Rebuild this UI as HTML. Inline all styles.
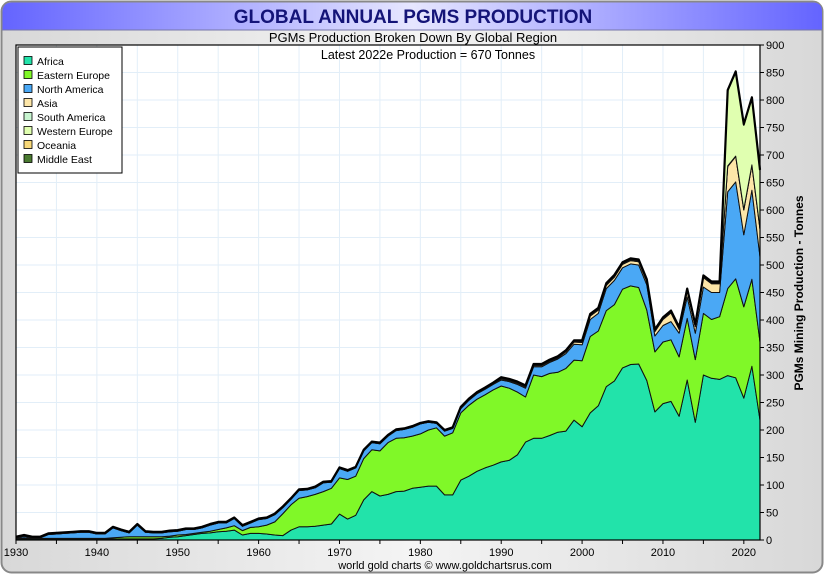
<!DOCTYPE html>
<html><head><meta charset="utf-8"><style>
html,body{margin:0;padding:0;background:#fff;}
body{width:825px;height:575px;overflow:hidden;font-family:"Liberation Sans",sans-serif;}
</style></head><body>
<svg id="chart" width="825" height="575" viewBox="0 0 825 575" xmlns="http://www.w3.org/2000/svg" font-family="Liberation Sans, sans-serif">
<defs>
<linearGradient id="tbar" x1="0" x2="1" y1="0" y2="0">
<stop offset="0" stop-color="#6464ff"/><stop offset="0.5" stop-color="#e6e6ff"/><stop offset="1" stop-color="#6464ff"/>
</linearGradient>
<linearGradient id="frame" x1="0" x2="1" y1="0" y2="0">
<stop offset="0" stop-color="#d8d8d8"/><stop offset="0.5" stop-color="#f4f4f4"/><stop offset="1" stop-color="#d8d8d8"/>
</linearGradient>
</defs>
<rect x="1.5" y="1.5" width="821" height="571" rx="10" fill="url(#frame)" stroke="#888" stroke-width="2"/>
<path d="M2.5,30 L2.5,12 Q2.5,2.5 12,2.5 L813,2.5 Q822,2.5 822,12 L822,30 Z" fill="url(#tbar)"/>
<line x1="2" y1="30" x2="822" y2="30" stroke="#7777aa" stroke-width="1"/>
<text x="413" y="23" text-anchor="middle" font-size="19" font-weight="bold" fill="#141478">GLOBAL ANNUAL PGMS PRODUCTION</text>
<text x="413" y="42" text-anchor="middle" font-size="13" fill="#000">PGMs Production Broken Down By Global Region</text>
<rect x="16" y="45" width="744" height="495" fill="#fff"/>
<g id="grid"></g>
<g id="areas"></g>
<rect x="16" y="45" width="744" height="495" fill="none" stroke="#000" stroke-width="1.2"/>
<text x="428" y="59" text-anchor="middle" font-size="12.5" fill="#000">Latest 2022e Production = 670 Tonnes</text>
<g id="yaxis"></g>
<g id="xaxis"></g>
<text transform="translate(803,293) rotate(-90)" text-anchor="middle" font-size="12" font-weight="bold" fill="#000">PGMs Mining Production - Tonnes</text>
<text x="445" y="569" text-anchor="middle" font-size="11" fill="#000">world gold charts © www.goldchartsrus.com</text>
<g id="legend">
<rect x="18" y="47" width="104" height="126" fill="#fff" stroke="#000" stroke-width="1"/>
</g>
</svg>
<script>
const years = [];
for (let y = 1930; y <= 2022; y++) years.push(y);
const africa = [2,2,2,2,2,2,2,2,2,2, 2,2,2,2,2,2,2,2,3,5, 6,8,10,12,13,15,16,18,9,12, 12,11,9,8,18,24,24,25,27,29, 47,38,45,73,88,80,83,88,89,94, 96,98,98,82,82,109,116,125,131,136, 142,145,155,178,185,185,190,196,198,218, 206,231,244,279,289,313,319,320,290,233, 248,252,225,291,214,300,294,292,299,295, 258,316,218];
const easternEurope = [1,2,1,1,1,1,1,1,1,1, 1,1,2,3,4,4,4,4,3,2, 3,2,2,2,3,4,6,8,8,11, 12,16,24,40,46,52,55,58,61,65, 66,72,71,75,76,82,94,97,97,95, 97,102,106,107,113,122,129,131,133,137, 138,131,114,82,115,112,113,109,114,109, 120,139,136,138,139,143,143,139,128,109, 112,112,108,112,114,112,107,114,158,180, 166,158,142];
const northAmerica = [1,3,1,1,7,8,9,10,11,11, 8,8,18,12,7,21,8,7,7,8, 7,9,7,8,11,12,9,13,8,8, 13,12,13,11,10,14,12,12,16,11, 17,15,15,14,13,13,12,14,15,16, 18,14,8,9,8,8,9,10,10,10, 11,12,14,16,15,18,20,24,27,29, 29,31,32,40,44,39,40,41,46,29, 30,33,43,39,48,48,49,44,176,176, 131,162,155];
const asia = [0,0,0,0,0,0,0,0,0,0, 0,0,0,0,0,0,0,0,0,0, 0,0,0,0,0,0,0,0,0,0, 0,0,0,0,0,0,0,0,0,0, 0,0,0,0,0,0,0,0,0,0, 0,0,0,0,0,1,1,1,1,1, 2,2,2,2,2,2,2,2,3,4, 4,6,6,6,6,6,6,6,6,8, 11,16,7,11,12,17,16,16,46,46, 45,45,50];
const southAmerica = [1,1,1,1,1,1,1,1,1,1, 1,1,1,1,1,1,1,1,1,1, 1,1,1,1,1,1,1,1,1,1, 1,1,1,1,1,1,1,1,1,1, 1,1,1,1,1,1,1,1,1,1, 1,1,1,1,1,1,1,1,1,1, 1,1,1,1,1,1,1,1,1,1, 1,1,1,1,1,1,1,1,1,1, 1,1,1,1,1,1,1,1,1,1, 1,1,1];
const westernEurope = [1,1,1,1,1,1,1,1,1,1, 1,1,1,1,1,1,1,1,1,1, 1,1,1,1,1,1,1,1,1,1, 1,1,1,1,1,1,1,1,1,1, 1,1,1,1,1,1,1,1,1,1, 1,1,1,1,1,1,1,1,1,1, 1,1,1,1,1,1,1,1,1,1, 1,1,1,1,1,1,1,1,1,1, 1,1,1,1,1,1,1,1,136,152, 153,121,105];
const oceania = [0,0,0,0,0,0,0,0,0,0, 0,0,0,0,0,0,0,0,0,0, 0,0,0,0,0,0,0,0,0,0, 0,0,0,0,0,0,0,0,0,0, 0,0,0,0,0,0,0,0,0,0, 0,0,0,0,0,0,0,0,0,0, 1,1,1,1,1,1,1,1,1,1, 1,1,1,1,1,1,1,1,1,1, 1,1,1,1,1,1,1,1,1,1, 1,1,1];
const middleEast = [0,0,0,0,0,0,0,0,0,0, 0,0,0,0,0,0,0,0,0,0, 0,0,0,0,0,0,0,0,0,0, 0,0,0,0,0,0,0,0,0,0, 0,0,0,0,0,0,0,0,0,0, 0,0,0,0,0,0,0,0,0,0, 0,0,0,0,0,0,0,0,0,0, 1,1,1,1,1,1,1,1,1,1, 1,1,1,1,1,1,1,1,1,1, 1,1,1];
const seriesNames = ["Africa","Eastern Europe","North America","Asia","South America","Western Europe","Oceania","Middle East"];
const yTicks = [0,50,100,150,200,250,300,350,400,450,500,550,600,650,700,750,800,850,900];
const xTickLabels = [1930,1940,1950,1960,1970,1980,1990,2000,2010,2020];

const seriesData = [africa,easternEurope,northAmerica,asia,southAmerica,westernEurope,oceania,middleEast];
const colors = ["#22e3aa","#80f828","#4aa8f5","#fde6a8","#c8f5d0","#e0ffb0","#f8d878","#4a7a30"];
const NS = "http://www.w3.org/2000/svg";
const X0 = 16, X1 = 760, Y0 = 540, Y1 = 45;
const xS = y => X0 + (y - 1930) / (2022 - 1930) * (X1 - X0);
const yS = v => Y0 - v / 900 * (Y0 - Y1);
function mk(tag, attrs, parent) { const e = document.createElementNS(NS, tag); for (const k in attrs) e.setAttribute(k, attrs[k]); parent.appendChild(e); return e; }

const grid = document.getElementById('grid');
for (let y = 1935; y < 2022; y += 5) {
  const l = mk('line', {x1:xS(y),x2:xS(y),y1:Y1,y2:Y0,stroke:'#e2eef8','stroke-width':1}, grid);
  
  
}
yTicks.forEach(v => {
  if (v > 0 && v < 900) {
    const l = mk('line', {x1:X0,x2:X1,y1:yS(v),y2:yS(v),stroke:'#e2eef8','stroke-width':1}, grid);
    
    
  }
});

const areas = document.getElementById('areas');
const cum = years.map(() => 0);
seriesData.forEach((s, i) => {
  const lower = cum.slice();
  for (let k = 0; k < years.length; k++) cum[k] += s[k];
  const upper = cum.slice();
  let d = '';
  years.forEach((y, k) => { d += (k ? 'L' : 'M') + xS(y).toFixed(1) + ',' + yS(upper[k]).toFixed(1); });
  for (let k = years.length - 1; k >= 0; k--) d += 'L' + xS(years[k]).toFixed(1) + ',' + yS(lower[k]).toFixed(1);
  d += 'Z';
  const p = mk('path', {d:d, fill:colors[i], stroke:'#111', 'stroke-width':1, 'stroke-linejoin':'round'}, areas);
  
  
});
let td = '';
years.forEach((y, k) => { td += (k ? 'L' : 'M') + xS(y).toFixed(1) + ',' + yS(cum[k]).toFixed(1); });
const totalLine = mk('path', {d:td, fill:'none', stroke:'#000', 'stroke-width':2.2, 'stroke-linejoin':'round'}, areas);



const ya = document.getElementById('yaxis');
yTicks.forEach(v => {
  const l = mk('line', {x1:X1,x2:X1+4,y1:yS(v),y2:yS(v),stroke:'#000'}, ya);
  
  
  const t = mk('text', {x:X1+6,y:yS(v)+4,'font-size':11,fill:'#000'}, ya);
  t.textContent = v;
  
  
});
const xa = document.getElementById('xaxis');
for (let y = 1930; y <= 2020; y += 5) {
  const l = mk('line', {x1:xS(y),x2:xS(y),y1:Y0,y2:Y0+4,stroke:'#000'}, xa);
  
  
}
xTickLabels.forEach(y => {
  const t = mk('text', {x:xS(y),y:Y0+16,'font-size':11,'text-anchor':'middle',fill:'#000'}, xa);
  t.textContent = y;
  
  
});

const lg = document.getElementById('legend');
seriesNames.forEach((n, i) => {
  const yy = 61 + i * 14;
  const r = mk('rect', {x:24,y:yy-4.5,width:8,height:8,fill:colors[i],stroke:'#000','stroke-width':0.8}, lg);
  
  
  const t = mk('text', {x:37,y:yy+4,'font-size':10.5,fill:'#000'}, lg);
  t.textContent = n;
  
  
});
</script>
</body></html>
